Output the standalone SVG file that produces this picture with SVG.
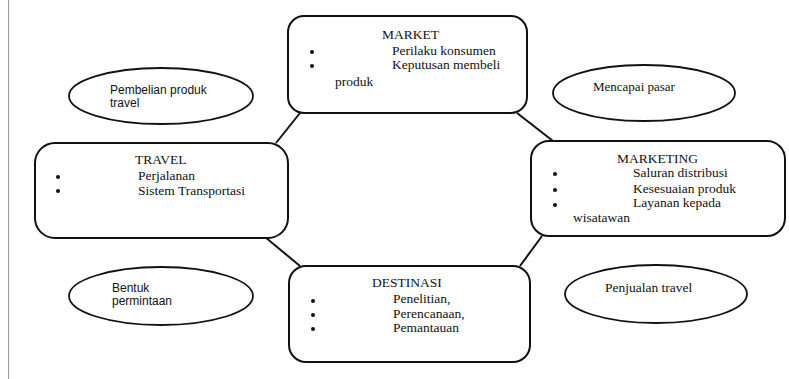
<svg xmlns="http://www.w3.org/2000/svg" width="789" height="379" viewBox="0 0 789 379">
<style>
.box{fill:#fff;stroke:#111;stroke-width:2}
.ell{fill:#fff;stroke:#111;stroke-width:1.8}
.con{fill:none;stroke:#111;stroke-width:2}
.t{font-family:"Liberation Serif","Times New Roman",serif;font-size:13.5px;fill:#111}
.s{font-family:"Liberation Sans",Arial,sans-serif;font-size:12px;fill:#111}
.b{fill:#111}
</style>
<rect width="789" height="379" fill="#fff"/>
<line x1="8.5" y1="0" x2="8.5" y2="379" stroke="#999" stroke-width="1"/>
<g id="connectors">
<line class="con" x1="300" y1="113" x2="276" y2="143"/>
<line class="con" x1="517" y1="113" x2="553" y2="141"/>
<line class="con" x1="265" y1="237" x2="300" y2="266"/>
<line class="con" x1="542" y1="236" x2="520" y2="266"/>
</g>
<g id="market">
<rect class="box" x="288" y="16" width="239" height="97" rx="16"/>
<text class="t" x="382" y="39">MARKET</text>
<circle class="b" cx="312" cy="52" r="2"/>
<circle class="b" cx="312" cy="66" r="2"/>
<text class="t" x="392" y="55">Perilaku konsumen</text>
<text class="t" x="392" y="69">Keputusan membeli</text>
<text class="t" x="335" y="86">produk</text>
</g>
<g id="travel">
<rect class="box" x="35" y="143" width="253" height="95" rx="20"/>
<text class="t" x="135" y="164">TRAVEL</text>
<circle class="b" cx="58" cy="177" r="2"/>
<circle class="b" cx="58" cy="191" r="2"/>
<text class="t" x="138" y="180">Perjalanan</text>
<text class="t" x="138" y="195">Sistem Transportasi</text>
</g>
<g id="marketing">
<rect class="box" x="531" y="141" width="254" height="95" rx="18"/>
<text class="t" x="617" y="163">MARKETING</text>
<circle class="b" cx="555" cy="174" r="2"/>
<circle class="b" cx="555" cy="190" r="2"/>
<circle class="b" cx="555" cy="205" r="2"/>
<text class="t" x="633" y="177">Saluran distribusi</text>
<text class="t" x="633" y="193">Kesesuaian produk</text>
<text class="t" x="633" y="207">Layanan kepada</text>
<text class="t" x="573" y="222">wisatawan</text>
</g>
<g id="destinasi">
<rect class="box" x="289" y="266" width="241" height="96" rx="17"/>
<text class="t" x="372" y="287">DESTINASI</text>
<circle class="b" cx="313" cy="301" r="2"/>
<circle class="b" cx="313" cy="315" r="2"/>
<circle class="b" cx="313" cy="329" r="2"/>
<text class="t" x="393" y="303">Penelitian,</text>
<text class="t" x="393" y="318">Perencanaan,</text>
<text class="t" x="393" y="332">Pemantauan</text>
</g>
<g id="pembelian">
<ellipse class="ell" cx="161" cy="96" rx="92" ry="28"/>
<text class="s" x="110" y="94">Pembelian produk</text>
<text class="s" x="110" y="107">travel</text>
</g>
<g id="mencapai">
<ellipse class="ell" cx="644" cy="93" rx="91" ry="28"/>
<text class="t" x="593" y="91" style="font-size:13px">Mencapai pasar</text>
</g>
<g id="bentuk">
<ellipse class="ell" cx="161" cy="296" rx="92" ry="29"/>
<text class="s" x="112" y="292">Bentuk</text>
<text class="s" x="112" y="305">permintaan</text>
</g>
<g id="penjualan">
<ellipse class="ell" cx="656" cy="294" rx="91" ry="29"/>
<text class="t" x="605" y="292">Penjualan travel</text>
</g>
</svg>
